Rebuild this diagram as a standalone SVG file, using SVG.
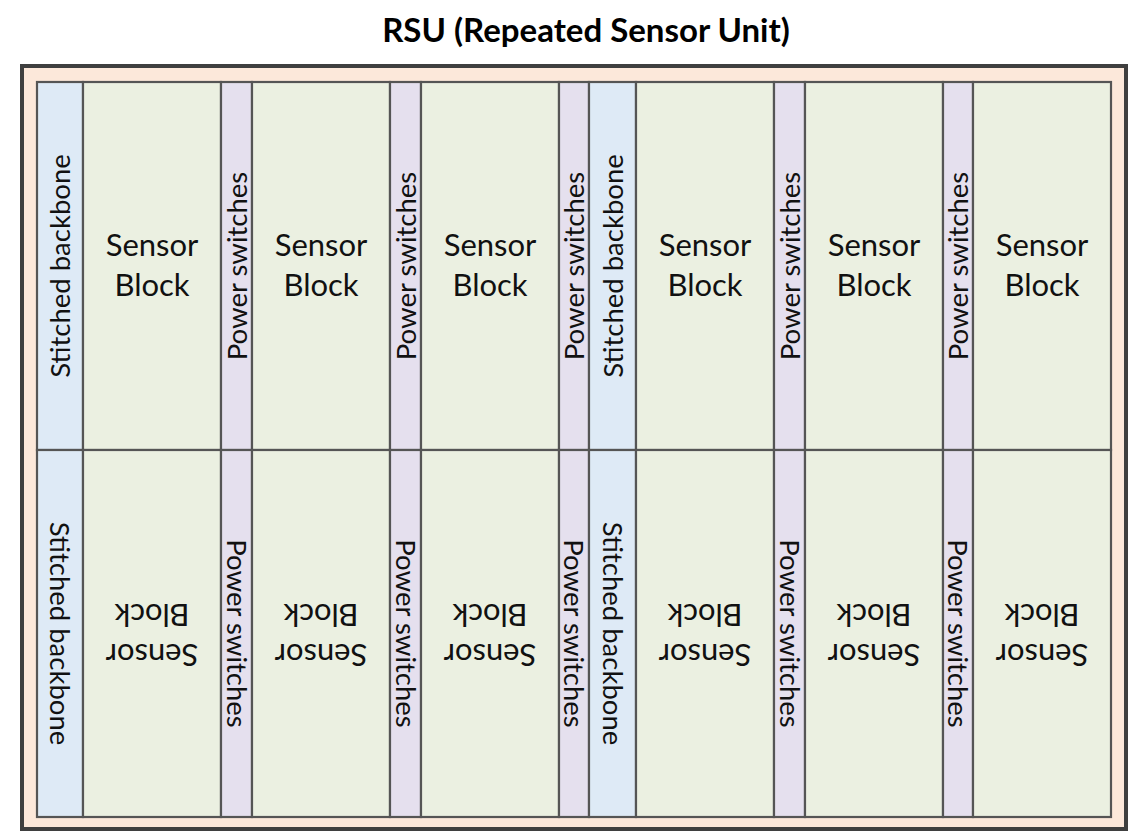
<svg xmlns="http://www.w3.org/2000/svg" width="1135" height="832" viewBox="0 0 1135 832">
<style>
.frame{fill:#FCE8DA;stroke:#3F3F3F;stroke-width:4}
.bb{fill:#DEEAF6;stroke:#555;stroke-width:2.2}
.sb{fill:#EBF0E1;stroke:#555;stroke-width:2.2}
.ps{fill:#E5E0EE;stroke:#555;stroke-width:2.2}
.t{font-family:Lato,"Open Sans",sans-serif;fill:#111;text-anchor:middle}
.big{font-size:31px}
.side{font-size:27.5px}
.title{font-family:Lato,"Open Sans",sans-serif;font-weight:bold;font-size:33px;fill:#000;text-anchor:middle}
</style>
<rect width="1135" height="832" fill="#fff"/>
<text id="title" class="title" x="586" y="42">RSU (Repeated Sensor Unit)</text>
<g id="rsu">
<rect class="frame" x="22" y="66" width="1104" height="763"/>
</g>
<g id="upper">
<g id="bb1u"><rect class="bb" x="37" y="82" width="46" height="368"/><text class="t side" transform="translate(60,266) rotate(-90)" y="10">Stitched backbone</text></g>
<g id="sb1u"><rect class="sb" x="83" y="82" width="138" height="368"/><text class="t big" x="152" y="256">Sensor</text><text class="t big" x="152" y="296">Block</text></g>
<g id="ps1u"><rect class="ps" x="221" y="82" width="31" height="368"/><text class="t side" transform="translate(236.5,266) rotate(-90)" y="10">Power switches</text></g>
<g id="sb2u"><rect class="sb" x="252" y="82" width="138" height="368"/><text class="t big" x="321" y="256">Sensor</text><text class="t big" x="321" y="296">Block</text></g>
<g id="ps2u"><rect class="ps" x="390" y="82" width="31" height="368"/><text class="t side" transform="translate(405.5,266) rotate(-90)" y="10">Power switches</text></g>
<g id="sb3u"><rect class="sb" x="421" y="82" width="138" height="368"/><text class="t big" x="490" y="256">Sensor</text><text class="t big" x="490" y="296">Block</text></g>
<g id="ps3u"><rect class="ps" x="559" y="82" width="30" height="368"/><text class="t side" transform="translate(574,266) rotate(-90)" y="10">Power switches</text></g>
<g id="bb2u"><rect class="bb" x="589" y="82" width="47" height="368"/><text class="t side" transform="translate(612.5,266) rotate(-90)" y="10">Stitched backbone</text></g>
<g id="sb4u"><rect class="sb" x="636" y="82" width="138" height="368"/><text class="t big" x="705" y="256">Sensor</text><text class="t big" x="705" y="296">Block</text></g>
<g id="ps4u"><rect class="ps" x="774" y="82" width="31" height="368"/><text class="t side" transform="translate(789.5,266) rotate(-90)" y="10">Power switches</text></g>
<g id="sb5u"><rect class="sb" x="805" y="82" width="138" height="368"/><text class="t big" x="874" y="256">Sensor</text><text class="t big" x="874" y="296">Block</text></g>
<g id="ps5u"><rect class="ps" x="943" y="82" width="30" height="368"/><text class="t side" transform="translate(958,266) rotate(-90)" y="10">Power switches</text></g>
<g id="sb6u"><rect class="sb" x="973" y="82" width="138" height="368"/><text class="t big" x="1042" y="256">Sensor</text><text class="t big" x="1042" y="296">Block</text></g>
</g>
<g id="lower">
<g id="bb1l"><rect class="bb" x="37" y="450" width="46" height="367"/><text class="t side" transform="translate(60,633.5) rotate(90)" y="10">Stitched backbone</text></g>
<g id="sb1l"><rect class="sb" x="83" y="450" width="138" height="367"/><g transform="rotate(180,152,633.5)"><text class="t big" x="152" y="623.5">Sensor</text><text class="t big" x="152" y="663.5">Block</text></g></g>
<g id="ps1l"><rect class="ps" x="221" y="450" width="31" height="367"/><text class="t side" transform="translate(236.5,633.5) rotate(90)" y="10">Power switches</text></g>
<g id="sb2l"><rect class="sb" x="252" y="450" width="138" height="367"/><g transform="rotate(180,321,633.5)"><text class="t big" x="321" y="623.5">Sensor</text><text class="t big" x="321" y="663.5">Block</text></g></g>
<g id="ps2l"><rect class="ps" x="390" y="450" width="31" height="367"/><text class="t side" transform="translate(405.5,633.5) rotate(90)" y="10">Power switches</text></g>
<g id="sb3l"><rect class="sb" x="421" y="450" width="138" height="367"/><g transform="rotate(180,490,633.5)"><text class="t big" x="490" y="623.5">Sensor</text><text class="t big" x="490" y="663.5">Block</text></g></g>
<g id="ps3l"><rect class="ps" x="559" y="450" width="30" height="367"/><text class="t side" transform="translate(574,633.5) rotate(90)" y="10">Power switches</text></g>
<g id="bb2l"><rect class="bb" x="589" y="450" width="47" height="367"/><text class="t side" transform="translate(612.5,633.5) rotate(90)" y="10">Stitched backbone</text></g>
<g id="sb4l"><rect class="sb" x="636" y="450" width="138" height="367"/><g transform="rotate(180,705,633.5)"><text class="t big" x="705" y="623.5">Sensor</text><text class="t big" x="705" y="663.5">Block</text></g></g>
<g id="ps4l"><rect class="ps" x="774" y="450" width="31" height="367"/><text class="t side" transform="translate(789.5,633.5) rotate(90)" y="10">Power switches</text></g>
<g id="sb5l"><rect class="sb" x="805" y="450" width="138" height="367"/><g transform="rotate(180,874,633.5)"><text class="t big" x="874" y="623.5">Sensor</text><text class="t big" x="874" y="663.5">Block</text></g></g>
<g id="ps5l"><rect class="ps" x="943" y="450" width="30" height="367"/><text class="t side" transform="translate(958,633.5) rotate(90)" y="10">Power switches</text></g>
<g id="sb6l"><rect class="sb" x="973" y="450" width="138" height="367"/><g transform="rotate(180,1042,633.5)"><text class="t big" x="1042" y="623.5">Sensor</text><text class="t big" x="1042" y="663.5">Block</text></g></g>
</g>
<g id="connectors"/>
</svg>
